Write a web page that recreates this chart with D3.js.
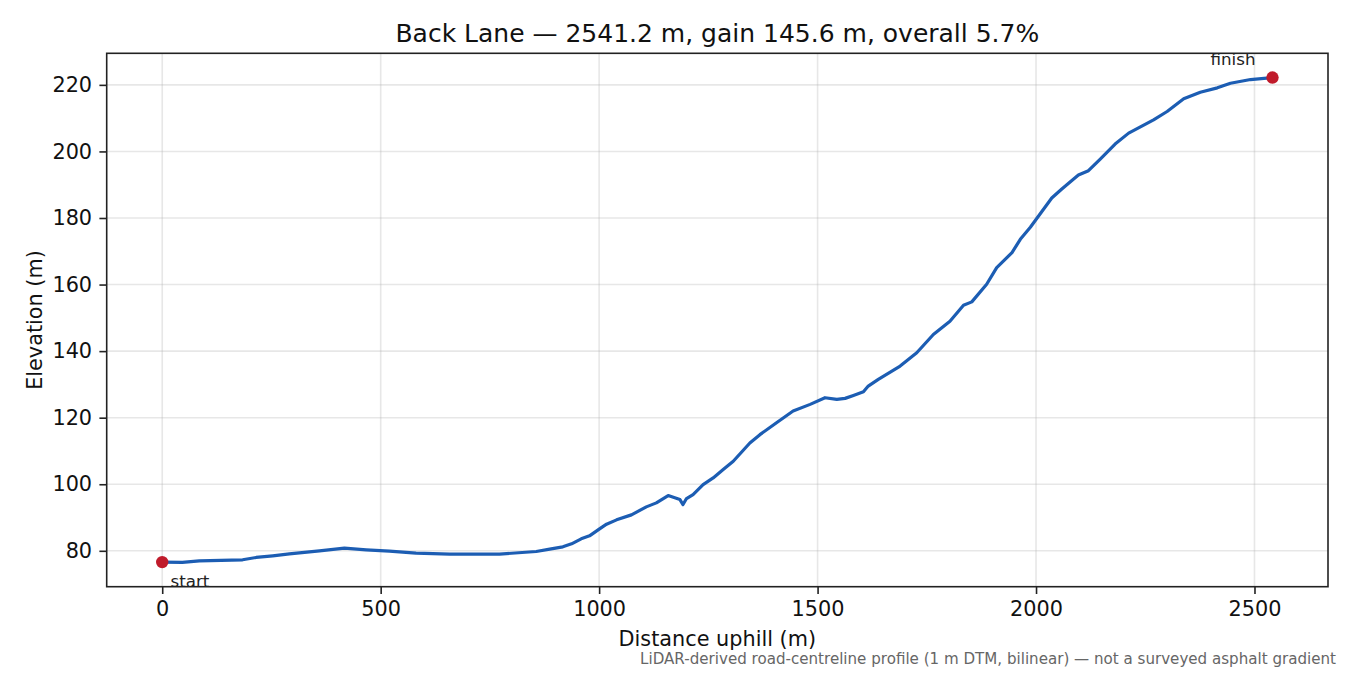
<!DOCTYPE html>
<html>
<head>
<meta charset="utf-8">
<script src="https://cdn.jsdelivr.net/npm/d3@7"></script>
<style>
  body { margin: 0; background: white; }
  text { font-family: "DejaVu Sans", sans-serif; }
</style>
</head>
<body>
<div id="container"></div>
<script>
// Elevation profile of Back Lane

const width = 1350;
const height = 675;

// distance along the road (m) and elevation (m)
const distance = [0, 46, 85, 184, 215, 253, 291, 360, 417, 467, 520, 581, 658, 772, 856, 887, 917, 937, 959, 978,
    1001, 1017, 1040, 1074, 1108, 1131, 1158, 1185, 1192, 1200, 1215, 1238, 1261, 1284, 1307, 1345, 1368, 1406, 1444,
    1483, 1517, 1544, 1563, 1582, 1605, 1616, 1639, 1689, 1727, 1765, 1803, 1834, 1853, 1887, 1910, 1945, 1964, 1987,
    2036, 2059, 2097, 2120, 2147, 2181, 2212, 2269, 2300, 2338, 2376, 2415, 2445, 2491, 2541.2];
const elevation = [76.6, 76.5, 77.0, 77.3, 78.0, 78.5, 79.1, 80.0, 80.8, 80.3, 79.9, 79.3, 79.0, 79.0, 79.8, 80.5, 81.2, 82.1, 83.6, 84.5,
    86.6, 88.0, 89.3, 90.8, 93.2, 94.4, 96.6, 95.4, 93.9, 95.7, 96.9, 99.9, 101.9, 104.4, 106.9, 112.4, 114.9, 118.5, 122.0,
    124.0, 126.0, 125.5, 125.8, 126.7, 127.8, 129.5, 131.5, 135.5, 139.5, 145.0, 149.0, 153.8, 154.8, 160.1, 165.1, 169.6, 173.6, 177.2,
    186.0, 188.7, 192.9, 194.2, 197.7, 202.2, 205.5, 209.5, 212.0, 215.8, 217.8, 219.1, 220.5, 221.6, 222.2];

const xTicks = [0, 500, 1000, 1500, 2000, 2500];
const yTicks = [80, 100, 120, 140, 160, 180, 200, 220];

const titleText = "Back Lane \u2014 2541.2 m, gain 145.6 m, overall 5.7%";
const xLabel = "Distance uphill (m)";
const yLabel = "Elevation (m)";
const footnote = "LiDAR-derived road-centreline profile (1 m DTM, bilinear) \u2014 not a surveyed asphalt gradient";

const data = distance.map((d, i) => ({ x: d, y: elevation[i] }));

// axes box
const plotLeft = 106.7, plotRight = 1328, plotTop = 53.3, plotBottom = 586.7;

// matplotlib-like 5% margins
const xExt = d3.extent(distance), yExt = d3.extent(elevation);
const xPad = (xExt[1] - xExt[0]) * 0.05, yPad = (yExt[1] - yExt[0]) * 0.05;

const x = d3.scaleLinear().domain([xExt[0] - xPad, xExt[1] + xPad]).range([plotLeft, plotRight]);
const y = d3.scaleLinear().domain([yExt[0] - yPad, yExt[1] + yPad]).range([plotBottom, plotTop]);

const svg = d3.select("#container")
    .append("svg")
    .attr("width", width)
    .attr("height", height)
    .style("background-color", "white");

// grid
svg.append("g")
    .selectAll("line")
    .data(xTicks)
    .join("line")
    .attr("x1", d => x(d)).attr("x2", d => x(d))
    .attr("y1", plotTop).attr("y2", plotBottom)
    .attr("stroke", "#b0b0b0").attr("stroke-opacity", 0.3).attr("stroke-width", 1.6);

svg.append("g")
    .selectAll("line")
    .data(yTicks)
    .join("line")
    .attr("x1", plotLeft).attr("x2", plotRight)
    .attr("y1", d => y(d)).attr("y2", d => y(d))
    .attr("stroke", "#b0b0b0").attr("stroke-opacity", 0.3).attr("stroke-width", 1.6);

// profile line
const line = d3.line()
    .x(d => x(d.x))
    .y(d => y(d.y));

svg.append("path")
    .datum(data)
    .attr("fill", "none")
    .attr("stroke", "#1c5db3")
    .attr("stroke-width", 3.2)
    .attr("stroke-linejoin", "round")
    .attr("stroke-linecap", "round")
    .attr("d", line);

// start / finish markers
const ends = [data[0], data[data.length - 1]];
svg.append("g")
    .selectAll("circle")
    .data(ends)
    .join("circle")
    .attr("cx", d => x(d.x))
    .attr("cy", d => y(d.y))
    .attr("r", 6.2)
    .attr("fill", "#c01b2b");

svg.append("text")
    .attr("x", x(ends[0].x) + 8.3)
    .attr("y", y(ends[0].y) + 25)
    .style("font-size", "16.7px")
    .attr("fill", "#222")
    .text("start");

svg.append("text")
    .attr("x", x(ends[1].x) - 62)
    .attr("y", y(ends[1].y) - 12.5)
    .style("font-size", "16.7px")
    .attr("fill", "#222")
    .text("finish");

// axes
const xAxis = svg.append("g")
    .attr("transform", `translate(0,${plotBottom})`)
    .call(d3.axisBottom(x).tickValues(xTicks).tickSize(7.3).tickPadding(7.3).tickFormat(d3.format("d")));
const yAxis = svg.append("g")
    .attr("transform", `translate(${plotLeft},0)`)
    .call(d3.axisLeft(y).tickValues(yTicks).tickSize(7.3).tickPadding(7.3).tickFormat(d3.format("d")));

[xAxis, yAxis].forEach(a => {
    a.select(".domain").remove();
    a.selectAll(".tick line").attr("stroke", "#222").attr("stroke-width", 1.6);
    a.selectAll(".tick text")
        .attr("fill", "#111")
        .style("font-size", "20.8px")
        .style("font-family", "DejaVu Sans");
});

// frame
svg.append("rect")
    .attr("x", plotLeft).attr("y", plotTop)
    .attr("width", plotRight - plotLeft).attr("height", plotBottom - plotTop)
    .attr("fill", "none")
    .attr("stroke", "#222")
    .attr("stroke-width", 1.6);

// labels
svg.append("text")
    .attr("x", (plotLeft + plotRight) / 2)
    .attr("y", 42)
    .attr("text-anchor", "middle")
    .style("font-size", "25px")
    .attr("fill", "#111")
    .text(titleText);

svg.append("text")
    .attr("x", (plotLeft + plotRight) / 2)
    .attr("y", 646)
    .attr("text-anchor", "middle")
    .style("font-size", "20.8px")
    .attr("fill", "#111")
    .text(xLabel);

svg.append("text")
    .attr("transform", `translate(41.5,${(plotTop + plotBottom) / 2}) rotate(-90)`)
    .attr("text-anchor", "middle")
    .style("font-size", "20.8px")
    .attr("fill", "#111")
    .text(yLabel);

svg.append("text")
    .attr("x", 1336)
    .attr("y", 664)
    .attr("text-anchor", "end")
    .style("font-size", "15.1px")
    .attr("fill", "#666")
    .text(footnote);
</script>
</body>
</html>
